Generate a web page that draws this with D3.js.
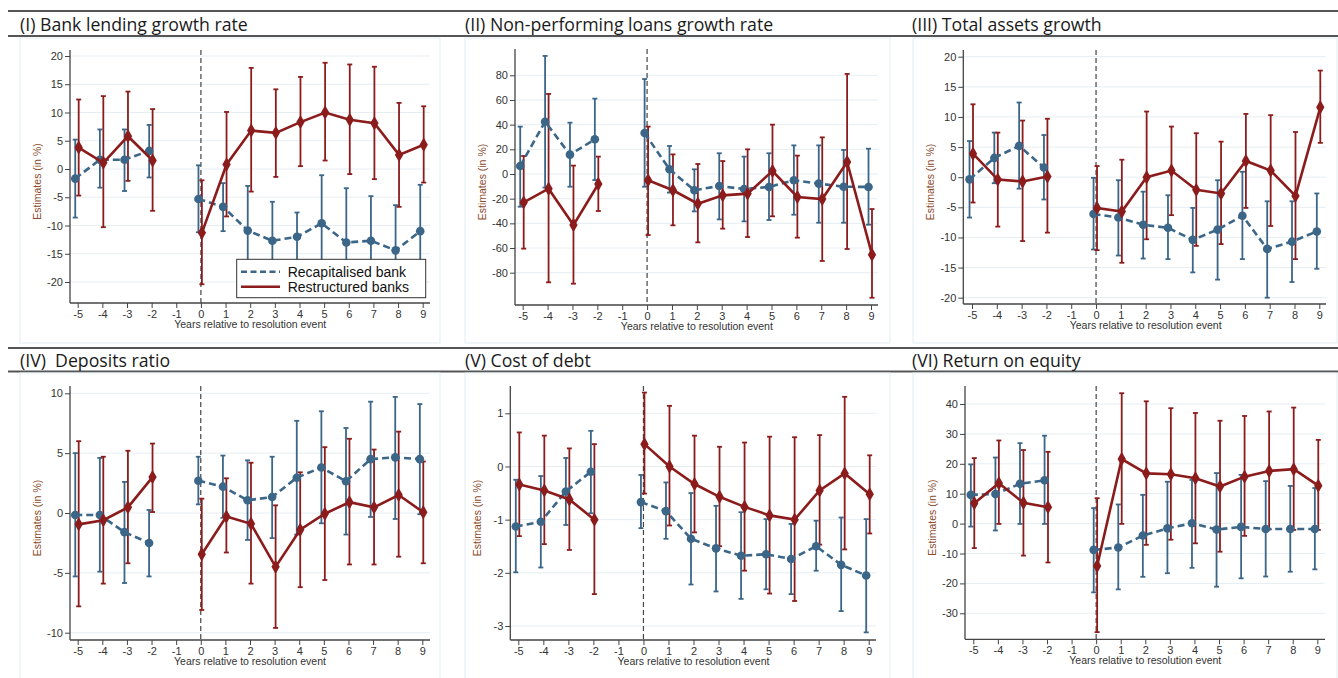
<html>
<head>
<meta charset="utf-8">
</head>
<body style="margin: 0 0 0 0; background: #fff;">
<svg id="chart"></svg>
<script src="https://cdnjs.cloudflare.com/ajax/libs/d3/7.8.5/d3.min.js"></script>
<script type="text/javascript">

// event-study estimates: [estimate, lower CI, upper CI]
var years = [-5, -4, -3, -2, 0, 1, 2, 3, 4, 5, 6, 7, 8, 9]
var xTicks = [-5, -4, -3, -2, -1, 0, 1, 2, 3, 4, 5, 6, 7, 8, 9]
var seriesNames = ["Recapitalised bank", "Restructured banks"]

var titles = [
  "(I) Bank lending growth rate",
  "(II) Non-performing loans growth rate",
  "(III) Total assets growth",
  "(IV)  Deposits ratio",
  "(V) Cost of debt",
  "(VI) Return on equity"
]

var yTicksLending = [-20, -15, -10, -5, 0, 5, 10, 15, 20]
var yTicksNpl = [-80, -60, -40, -20, 0, 20, 40, 60, 80]
var yTicksAssets = [-20, -15, -10, -5, 0, 5, 10, 15, 20]
var yTicksDeposits = [-10, -5, 0, 5, 10]
var yTicksDebt = [-3, -2, -1, 0, 1]
var yTicksRoe = [-30, -20, -10, 0, 10, 20, 30, 40]

var lendingRecap = [[-1.7,-8.6,5.2],[1.65,-3.3,7.0],[1.65,-3.9,7.0],[3.2,-1.5,7.8],[-5.3,-11.2,0.65],[-6.7,-11.0,-2.5],[-10.9,-18.8,-3.0],[-12.7,-19.6,-5.8],[-12.0,-16.3,-7.7],[-9.6,-18.1,-1.1],[-13.0,-22.4,-3.4],[-12.7,-20.6,-4.8],[-14.4,-22.3,-6.4],[-11.0,-19.2,-2.8]]
var lendingRestr = [[3.8,-4.7,12.3],[1.1,-10.3,12.9],[5.8,-2.1,13.7],[1.5,-7.4,10.6],[-11.3,-20.4,-2.0],[0.8,-8.4,10.1],[6.8,-4.0,17.9],[6.4,-1.4,14.1],[8.3,0.5,16.3],[10.0,1.5,18.8],[8.7,-0.9,18.5],[8.1,-1.8,18.1],[2.5,-6.7,11.7],[4.3,-2.4,11.1]]

var nplRecap = [[6.5,-26.5,38.4],[42.4,-11,95.7],[15.7,-10.3,41.6],[28.1,-4.9,61.1],[33.2,-10.3,77.0],[3.8,-15.1,22.7],[-13.2,-30.3,3.8],[-9.7,-36.8,16.8],[-12.2,-38.4,14.1],[-10.5,-37.3,16.8],[-5.1,-33.0,23.2],[-7.8,-39.5,23.2],[-10.3,-39.5,19.5],[-10.5,-41.1,20.5]]
var nplRestr = [[-23.0,-60.5,14.6],[-11.9,-87.8,64.9],[-41.4,-88.9,6.8],[-8.1,-30.0,14.1],[-5.1,-49.5,38.4],[-13.2,-41.6,15.9],[-24.1,-55.4,8.1],[-17.3,-44.3,10.5],[-15.9,-51.1,20.0],[2.4,-34.3,40.0],[-18.6,-51.6,14.9],[-20.3,-70.5,29.7],[9.7,-60.8,81.1],[-65.4,-100.3,-28.4]]

var assetsRecap = [[-0.36,-6.7,6.0],[3.2,-1.0,7.4],[5.2,-1.9,12.4],[1.6,-3.7,7.0],[-6.1,-12.0,-0.1],[-6.7,-13.0,-0.5],[-7.9,-13.5,-2.4],[-8.4,-13.6,-3.0],[-10.4,-15.8,-5.1],[-8.7,-17.0,-0.5],[-6.4,-13.6,0.9],[-11.9,-20.0,-4.0],[-10.7,-17.4,-4.0],[-9.0,-15.2,-2.7]]
var assetsRestr = [[3.9,-4.2,12.1],[-0.4,-8.2,7.4],[-0.7,-10.6,9.4],[0.1,-9.2,9.7],[-5.1,-12.1,1.85],[-5.7,-14.2,2.9],[0.0,-10.3,10.9],[1.1,-6.3,8.4],[-2.1,-11.4,7.3],[-2.7,-11.1,5.9],[2.7,-5.1,10.5],[1.1,-8.1,10.3],[-3.1,-13.6,7.5],[11.6,5.7,17.7]]

var depositsRecap = [[-0.17,-5.3,5.0],[-0.17,-4.9,4.6],[-1.6,-5.85,2.6],[-2.5,-5.3,0.25],[2.7,0.72,4.7],[2.2,-0.4,4.8],[1.06,-2.25,4.4],[1.34,-2.1,4.7],[2.95,-1.8,7.7],[3.8,-0.86,8.5],[2.65,-1.8,7.1],[4.5,-0.33,9.3],[4.65,-0.5,9.7],[4.5,-0.1,9.1]]
var depositsRestr = [[-0.95,-7.8,6.0],[-0.6,-5.9,4.7],[0.47,-4.2,5.2],[3.0,0.08,5.8],[-3.45,-8.1,1.2],[-0.3,-3.3,2.9],[-0.9,-5.9,4.2],[-4.5,-9.6,0.64],[-1.4,-6.2,3.4],[-0.06,-5.6,5.5],[0.9,-4.3,6.2],[0.47,-4.3,5.3],[1.5,-3.65,6.8],[0.06,-4.2,4.3]]

var debtRecap = [[-1.13,-1.99,-0.25],[-1.04,-1.9,-0.18],[-0.47,-1.1,0.16],[-0.1,-0.88,0.67],[-0.67,-1.16,-0.16],[-0.84,-1.36,-0.3],[-1.36,-2.22,-0.5],[-1.54,-2.35,-0.74],[-1.68,-2.49,-0.86],[-1.65,-2.31,-0.99],[-1.74,-2.4,-1.08],[-1.5,-1.96,-1.02],[-1.85,-2.72,-0.96],[-2.05,-3.12,-0.99]]
var debtRestr = [[-0.34,-1.31,0.64],[-0.45,-1.46,0.58],[-0.62,-1.57,0.34],[-1.0,-2.4,0.42],[0.42,-0.51,1.39],[0.0,-1.11,1.14],[-0.33,-1.24,0.58],[-0.57,-1.5,0.37],[-0.76,-1.96,0.45],[-0.92,-2.39,0.56],[-1.0,-2.53,0.55],[-0.45,-1.47,0.59],[-0.13,-1.56,1.31],[-0.52,-1.26,0.21]]

var roeRecap = [[9.6,-1.0,19.8],[9.9,-2.3,22.1],[13.3,-0.1,26.9],[14.5,-0.1,29.4],[-8.8,-23.0,5.2],[-8.0,-22.0,6.4],[-4.0,-17.8,9.6],[-1.6,-16.6,14.0],[0.1,-14.8,14.6],[-2.0,-21.1,16.9],[-1.1,-18.3,16.3],[-1.8,-17.7,14.2],[-1.8,-16.1,12.6],[-1.8,-15.3,11.9]]
var roeRestr = [[6.8,-8.2,21.9],[13.5,-0.1,27.8],[7.0,-10.7,24.6],[5.5,-13.0,24.0],[-14.2,-36.3,8.5],[21.6,-0.1,43.6],[16.8,-7.1,40.9],[16.5,-5.4,38.6],[15.2,-6.6,37.0],[12.4,-9.4,34.4],[15.7,-4.1,36.0],[17.6,-1.9,37.5],[18.2,-2.1,38.8],[12.7,-2.1,28.0]]

var panelData = [
  [lendingRecap, lendingRestr, yTicksLending],
  [nplRecap, nplRestr, yTicksNpl],
  [assetsRecap, assetsRestr, yTicksAssets],
  [depositsRecap, depositsRestr, yTicksDeposits],
  [debtRecap, debtRestr, yTicksDebt],
  [roeRecap, roeRestr, yTicksRoe]
]

// layout (page pixels) per panel
// ax: y axis x, top/bot: axis extent, right: x axis end, x0/x1: px of -5/9,
// ya/yb: [value, px] of two y ticks, bx: plot box left/right, row
var layout = [
  {ax: 70,    top: 50,  bot: 303, right: 430,  x0: 77.7,  x1: 422.7,  ya: [20, 56],   yb: [-20, 282],  bx: [20, 440],  row: 0, tx: 20},
  {ax: 515,   top: 49,  bot: 305, right: 878,  x0: 522.7, x1: 871,    ya: [80, 75.3], yb: [-80, 272.7], bx: [465, 890], row: 0, tx: 465},
  {ax: 963.3, top: 50,  bot: 304, right: 1326, x0: 972,   x1: 1319.3, ya: [20, 56.7], yb: [-20, 297.7], bx: [913, 1337], row: 0, tx: 912},
  {ax: 70,    top: 386, bot: 640, right: 430,  x0: 77.7,  x1: 422.3,  ya: [10, 393.3], yb: [-10, 632.7], bx: [20, 440], row: 1, tx: 20},
  {ax: 510.3, top: 386, bot: 640, right: 876,  x0: 518.3, x1: 868.7,  ya: [1, 413.3], yb: [-3, 626],   bx: [465, 890], row: 1, tx: 465},
  {ax: 965,   top: 386, bot: 639.3, right: 1325, x0: 973.3, x1: 1317.3, ya: [40, 404], yb: [-30, 613.3], bx: [913, 1337], row: 1, tx: 912}
]
var rows = [{l1: 11, l2: 36, base: 31, box: [38, 343]}, {l1: 348, l2: 371.5, base: 367, box: [373, 690]}]

var blue = "#3b6688", red = "#8c1c1c"
var offsets = [-0.1, 0.04]

var svg = d3.select("#chart").attr("width", 1338).attr("height", 678)
  .style("font-family", "'Liberation Sans', Arial, sans-serif")

rows.forEach(function(r) {
  svg.append("line").attr("x1", 8).attr("x2", 1338).attr("y1", r.l1).attr("y2", r.l1)
    .attr("stroke", "#555").attr("stroke-width", 2)
  svg.append("line").attr("x1", 8).attr("x2", 1338).attr("y1", r.l2).attr("y2", r.l2)
    .attr("stroke", "#555").attr("stroke-width", 2)
})

layout.forEach(function(L, i) {
  var row = rows[L.row]
  var g = svg.append("g")
  var d = panelData[i]
  var yTicks = d[2]

  // plot region box
  g.append("rect").attr("x", L.bx[0]).attr("y", row.box[0])
    .attr("width", L.bx[1] - L.bx[0]).attr("height", row.box[1] - row.box[0])
    .attr("fill", "none").attr("stroke", "#e3edf1").attr("stroke-width", 1)

  g.append("text").attr("x", L.tx).attr("y", row.base)
    .attr("font-family", "'Open Sans', 'Noto Sans', sans-serif")
    .style("white-space", "pre")
    .attr("font-size", 17.7).attr("fill", "#1a1a1a").text(titles[i])

  var x = d3.scaleLinear().domain([-5, 9]).range([L.x0, L.x1])
  var y = d3.scaleLinear().domain([L.ya[0], L.yb[0]]).range([L.ya[1], L.yb[1]])

  // grid
  g.selectAll(".grid").data(yTicks).enter().append("line")
    .attr("x1", L.ax).attr("x2", L.right)
    .attr("y1", function(v) { return y(v) }).attr("y2", function(v) { return y(v) })
    .attr("stroke", "#e6eef2").attr("stroke-width", 1)

  // axes
  var yAxis = g.append("g").attr("transform", "translate(" + L.ax + ",0)")
    .call(d3.axisLeft(y).tickValues(yTicks).tickSize(5).tickPadding(2).tickFormat(function(v) { return String(v) }))
  var xAxis = g.append("g").attr("transform", "translate(0," + L.bot + ")")
    .call(d3.axisBottom(x).tickValues(xTicks).tickSize(5).tickPadding(3).tickFormat(function(v) { return String(v) }))
  ;[yAxis, xAxis].forEach(function(a) {
    a.select(".domain").remove()
    a.selectAll(".tick line").attr("stroke", "#444").attr("stroke-width", 1)
    a.selectAll(".tick text").attr("fill", "#333").attr("font-size", 11)
      .attr("font-family", "'Liberation Sans', Arial, sans-serif")
  })
  xAxis.selectAll(".tick text").attr("dy", "0.6em")
  g.append("line").attr("x1", L.ax).attr("x2", L.ax).attr("y1", L.top).attr("y2", L.bot)
    .attr("stroke", "#444").attr("stroke-width", 1.3)
  g.append("line").attr("x1", L.ax).attr("x2", L.right).attr("y1", L.bot).attr("y2", L.bot)
    .attr("stroke", "#444").attr("stroke-width", 1.3)

  // axis titles
  g.append("text").attr("x", (L.x0 + L.x1) / 2).attr("y", L.bot + 25)
    .attr("text-anchor", "middle").attr("font-size", 10.5).attr("fill", "#333")
    .text("Years relative to resolution event")
  g.append("text")
    .attr("transform", "translate(" + (L.ax - 29) + "," + ((L.top + L.bot) / 2 + 5) + ") rotate(-90)")
    .attr("text-anchor", "middle").attr("font-size", 10.5).attr("fill", "#8b4a2b")
    .text("Estimates (in %)")

  // event line
  g.append("line").attr("x1", x(0)).attr("x2", x(0)).attr("y1", L.top).attr("y2", L.bot)
    .attr("stroke", "#444").attr("stroke-width", 1.2).attr("stroke-dasharray", "5,3")

  var series = [d[0], d[1]]
  var colors = [blue, red]

  // confidence intervals
  series.forEach(function(s, k) {
    var pts = s.map(function(v, j) { return {yr: years[j] + offsets[k], est: v[0], lo: v[1], hi: v[2]} })
    var ci = g.append("g").attr("stroke", colors[k]).attr("stroke-width", 1.8)
    ci.selectAll(".bar").data(pts).enter().append("line")
      .attr("x1", function(p) { return x(p.yr) }).attr("x2", function(p) { return x(p.yr) })
      .attr("y1", function(p) { return y(p.lo) }).attr("y2", function(p) { return y(p.hi) })
    ;["lo", "hi"].forEach(function(key) {
      ci.selectAll(".cap" + key).data(pts).enter().append("line")
        .attr("x1", function(p) { return x(p.yr) - 2.5 }).attr("x2", function(p) { return x(p.yr) + 2.5 })
        .attr("y1", function(p) { return y(p[key]) }).attr("y2", function(p) { return y(p[key]) })
    })
  })

  // connected lines and markers
  series.forEach(function(s, k) {
    var pts = s.map(function(v, j) { return {yr: years[j] + offsets[k], est: v[0]} })
    var line = d3.line().x(function(p) { return x(p.yr) }).y(function(p) { return y(p.est) })
    var parts = [pts.filter(function(p) { return p.yr < -0.5 }), pts.filter(function(p) { return p.yr > -0.5 })]
    parts.forEach(function(part) {
      g.append("path").datum(part).attr("d", line).attr("fill", "none")
        .attr("stroke", colors[k]).attr("stroke-width", 2.6)
        .attr("stroke-dasharray", k == 0 ? "7,4" : null)
    })
    if (k == 0) {
      g.selectAll(".dot").data(pts).enter().append("circle")
        .attr("cx", function(p) { return x(p.yr) }).attr("cy", function(p) { return y(p.est) })
        .attr("r", 4.3).attr("fill", blue)
    } else {
      g.selectAll(".dia").data(pts).enter().append("path")
        .attr("d", d3.symbol().type(d3.symbolDiamond).size(60))
        .attr("transform", function(p) { return "translate(" + x(p.yr) + "," + y(p.est) + ")" })
        .attr("fill", red)
    }
  })

  // legend in first panel
  if (i == 0) {
    var lg = g.append("g")
    lg.append("rect").attr("x", 236.7).attr("y", 259.3).attr("width", 189).attr("height", 38.4)
      .attr("fill", "#fff").attr("stroke", "#333").attr("stroke-width", 1)
    seriesNames.forEach(function(name, k) {
      var yy = 271.7 + k * 15
      lg.append("line").attr("x1", 241).attr("x2", 280).attr("y1", yy).attr("y2", yy)
        .attr("stroke", colors[k]).attr("stroke-width", 2.6)
        .attr("stroke-dasharray", k == 0 ? "6,3.5" : null)
      lg.append("text").attr("x", 287.7).attr("y", yy + 5).attr("font-size", 14)
        .attr("fill", "#111").text(name)
    })
  }
})

</script>
</body>
</html>
